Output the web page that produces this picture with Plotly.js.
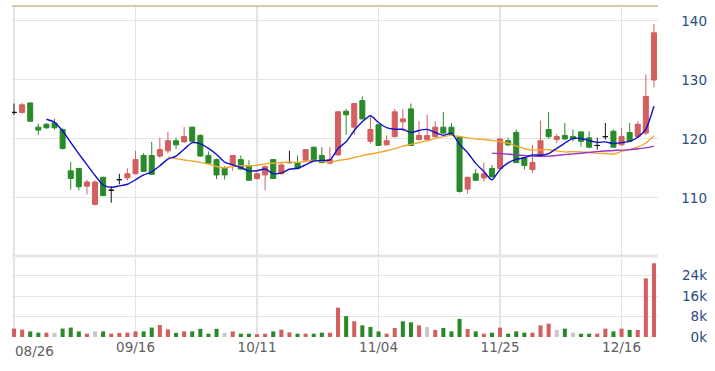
<!DOCTYPE html>
<html><head><meta charset="utf-8">
<script src="https://cdn.plot.ly/plotly-3.0.1.min.js"></script>
<style>html,body{margin:0;padding:0;background:#fff}#chart{width:715px;height:371px}</style>
</head><body><div id="chart"></div>
<script>
const dates = ["08/26","08/27","08/28","08/29","08/30","09/02","09/03","09/04","09/05","09/06",
"09/09","09/10","09/11","09/12","09/13","09/16","09/18","09/19","09/20","09/23",
"09/24","09/25","09/26","09/27","09/30","10/01","10/04","10/07","10/08","10/09",
"10/11","10/14","10/15","10/16","10/17","10/18","10/21","10/22","10/23","10/24",
"10/25","10/28","10/29","10/30","11/01","11/04","11/05","11/06","11/07","11/08",
"11/11","11/12","11/13","11/14","11/15","11/18","11/19","11/20","11/21","11/22",
"11/25","11/26","11/27","11/28","11/29","12/02","12/03","12/04","12/05","12/06",
"12/09","12/10","12/11","12/12","12/13","12/16","12/17","12/18","12/19","12/20"];

const openP = [124.5,124.5,126.1,122.0,122.5,122.7,121.6,114.6,115.0,112.0,
108.9,113.5,111.3,113.1,113.4,114.1,117.2,117.2,117.1,118.0,
119.7,119.5,122.0,120.6,117.2,116.5,115.0,115.6,116.5,115.5,
113.3,113.9,116.5,114.1,116.0,116.0,116.4,118.6,117.2,115.9,
117.3,124.7,122.0,126.5,119.6,122.4,119.0,120.4,122.9,125.1,
119.9,119.9,120.4,122.0,122.0,120.4,111.5,114.1,113.4,115.0,
115.0,119.7,121.1,116.8,114.8,117.2,121.6,119.9,120.6,120.4,
121.2,120.2,118.9,120.4,121.3,119.0,121.1,120.4,121.0,130.0];
const highP = [126.0,126.1,126.2,122.6,122.7,123.4,121.8,116.1,115.1,113.1,
113.0,113.6,112.0,114.1,115.0,118.0,117.6,119.5,120.2,121.2,
120.2,122.0,122.1,120.8,117.9,116.7,115.4,117.3,117.2,116.4,
114.3,115.5,116.6,115.9,118.0,117.2,118.3,118.7,118.6,118.6,
124.7,125.1,126.1,127.2,123.8,122.5,120.6,125.1,125.1,126.0,
123.0,124.1,123.0,124.6,122.7,120.5,113.6,114.9,116.0,115.6,
120.1,120.2,121.6,117.0,119.0,123.1,124.6,120.8,122.7,121.6,
121.3,121.3,120.2,122.7,121.6,121.9,122.7,123.0,130.9,139.5];
const lowP = [124.1,124.3,123.0,120.7,121.7,121.6,118.2,111.4,111.3,110.6,
108.75,110.3,109.2,112.3,113.0,114.0,114.4,113.9,116.8,117.6,
118.3,119.4,119.5,117.0,115.8,113.2,113.1,114.6,114.8,112.9,
113.1,111.3,113.2,114.0,115.9,114.8,116.0,116.4,116.0,115.7,
117.2,120.7,120.7,123.3,119.2,118.8,118.9,120.2,121.3,118.8,
119.8,119.8,120.2,120.9,120.6,110.9,110.7,112.9,112.8,113.4,
114.9,118.8,115.9,114.8,114.2,117.0,120.0,119.3,119.8,119.6,
118.7,118.4,118.2,119.9,118.5,118.8,119.5,120.2,120.7,128.7];
const closeP = [124.5,125.8,123.0,121.5,121.9,121.9,118.4,113.3,111.9,112.7,
112.7,110.4,111.3,113.1,114.1,116.5,114.5,114.0,118.2,119.7,
119.0,120.4,119.6,117.1,115.9,113.9,113.9,117.2,114.9,113.0,
114.1,115.3,113.3,115.6,116.0,115.0,118.2,116.5,116.0,116.5,
124.6,124.1,126.0,123.4,121.6,118.9,119.7,124.6,123.4,118.9,
120.6,120.6,122.0,121.0,120.7,111.1,113.5,113.0,114.1,113.6,
120.0,119.0,116.0,115.5,116.0,119.7,120.4,120.4,120.0,120.0,
119.6,118.6,118.9,120.4,118.6,120.4,119.6,122.5,127.2,138.0];
const volume = [3300,2900,2200,1700,1700,1600,3300,3700,2200,1300,
2200,2200,1300,1600,1700,2200,2200,3700,4700,3000,
1600,2200,2200,3200,1300,3200,1600,2200,1300,1300,
1100,1300,2200,2850,1800,1300,1300,1300,1700,1700,
11500,8150,6150,4570,3940,2200,1300,3550,6150,5750,
4570,3940,2760,3550,2200,7100,3150,2200,1300,1700,
3670,1300,2200,1700,1700,4570,5240,2760,3270,1700,
1300,1300,1300,3270,2200,3270,2760,2760,22970,28900];

const priceTicks = [110,120,130,140];
const volTicks = [0,8000,16000,24000];
const volTickText = ["0k","8k","16k","24k"];
const labelIdx = [0,15,30,45,60,75];

const UP = "#d35f5f", DOWN = "#2a8a2a", FLAT = "#111111", GRAY = "#c8c8c8";
const idx = dates.map((d,i)=>i);

function ma(n){
  return closeP.map((c,i)=>{
    if(i < n-1) return null;
    let s = 0; for(let k=i-n+1;k<=i;k++) s += closeP[k];
    return s/n;
  });
}
function candles(filter, color){
  const ii = idx.filter(filter);
  return {type:"candlestick", xaxis:"x", yaxis:"y",
    x: ii, open: ii.map(i=>openP[i]), high: ii.map(i=>highP[i]),
    low: ii.map(i=>lowP[i]), close: ii.map(i=>closeP[i]),
    increasing:{line:{color:color,width:1},fillcolor:color},
    decreasing:{line:{color:color,width:1},fillcolor:color},
    whiskerwidth:0, hoverinfo:"skip", showlegend:false};
}
const volColors = closeP.map((c,i)=>{
  if(i===0) return UP;
  if(c > closeP[i-1]) return UP;
  if(c < closeP[i-1]) return DOWN;
  return GRAY;
});

const traces = [
  candles(i=>closeP[i]>openP[i], UP),
  candles(i=>closeP[i]<openP[i], DOWN),
  candles(i=>closeP[i]===openP[i], FLAT),
  {type:"scatter", mode:"lines", x:idx, y:ma(20), xaxis:"x", yaxis:"y",
   line:{color:"#f0a830", width:1.4, shape:"spline", smoothing:0.6}, hoverinfo:"skip", showlegend:false},
  {type:"scatter", mode:"lines", x:idx, y:ma(60), xaxis:"x", yaxis:"y",
   line:{color:"#9a30c8", width:1.4, shape:"spline", smoothing:0.6}, hoverinfo:"skip", showlegend:false},
  {type:"scatter", mode:"lines", x:idx, y:ma(5), xaxis:"x", yaxis:"y",
   line:{color:"#1010c8", width:1.4, shape:"spline", smoothing:0.6}, hoverinfo:"skip", showlegend:false},
  {type:"bar", x:idx, y:volume, xaxis:"x2", yaxis:"y2",
   marker:{color:volColors, line:{width:0}}, hoverinfo:"skip", showlegend:false}
];

const XD = [0, 0.9295];
const GRID = "#e4e4e4";
const font = {family:"DejaVu Sans, Verdana, sans-serif"};
const layout = {
  width:715, height:371,
  margin:{l:12, r:8, t:6, b:34},
  paper_bgcolor:"#fff", plot_bgcolor:"#fff",
  showlegend:false, hovermode:false,
  boxgap:0.38, boxgroupgap:0, bargap:0.5,
  font:font,
  xaxis:{domain:XD, anchor:"y", range:[-0.25,79.5], tickvals:labelIdx, showticklabels:false,
    showgrid:true, gridcolor:GRID, gridwidth:1.5, zeroline:false, showline:false, ticks:"",
    rangeslider:{visible:false}, fixedrange:true},
  xaxis2:{domain:XD, anchor:"y2", range:[-0.25,79.5], tickvals:labelIdx,
    ticktext:labelIdx.map(i=> i===0 ? "" : dates[i]),
    showgrid:true, gridcolor:GRID, gridwidth:1.5, zeroline:false, showline:false, ticks:"",
    tickfont:{size:13.5, color:"#606060", family:font.family}, fixedrange:true},
  yaxis:{domain:[0.2454,1], anchor:"free", position:1, side:"left", range:[100.2,142.54],
    tickvals:priceTicks, showgrid:true, gridcolor:GRID, zeroline:false, showline:false, ticks:"",
    tickfont:{size:13.5, color:"#2b4d80", family:font.family}, fixedrange:true},
  yaxis2:{domain:[0,0.239], anchor:"free", position:1, side:"left", range:[0,31000],
    tickvals:volTicks, ticktext:volTickText, showgrid:true, gridcolor:GRID, zeroline:false,
    showline:false, ticks:"", tickfont:{size:13.5, color:"#2b4d80", family:font.family}, fixedrange:true},
  shapes:[
    {type:"line", xref:"paper", yref:"paper", x0:0, x1:XD[1], y0:1, y1:1,
     line:{color:"#c8b890", width:1.6}, layer:"above"},
    {type:"rect", xref:"paper", yref:"paper", x0:0, x1:XD[1], y0:0.2402, y1:0.2492,
     fillcolor:"#e6e6e6", line:{width:0}, layer:"below"}
  ],
  annotations:[
    {text:dates[0], xref:"x2", yref:"paper", x:0, y:0, xanchor:"left", yanchor:"top",
     xshift:-1, yshift:-4, showarrow:false, font:{size:13.5, color:"#606060", family:font.family}}
  ]
};
Plotly.newPlot("chart", traces, layout, {displayModeBar:false, staticPlot:true});
</script></body></html>
